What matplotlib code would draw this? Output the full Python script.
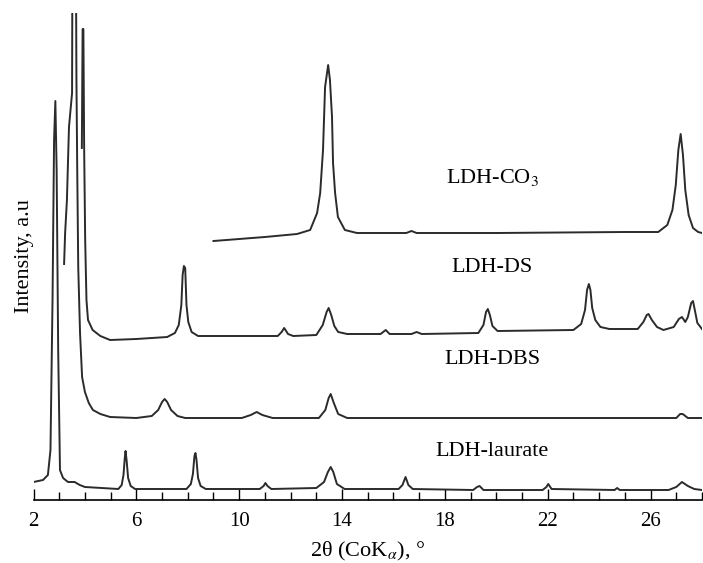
import matplotlib
matplotlib.use("Agg")
import matplotlib.pyplot as plt

# XRD patterns, intensity (arbitrary units)
laurate_x = [2.0, 2.37, 2.56, 2.66, 2.74, 2.8, 2.85, 2.9, 2.96, 3.03, 3.15, 3.34, 3.6, 3.8, 4.0,
             5.3, 5.43, 5.5, 5.55, 5.58, 5.62, 5.68, 5.78, 5.95,
             7.95, 8.12, 8.2, 8.26, 8.3, 8.34, 8.4, 8.5, 8.7,
             10.8, 10.95, 11.02, 11.1, 11.25,
             13.0, 13.3, 13.45, 13.56, 13.66, 13.8, 14.1,
             16.2, 16.35, 16.47, 16.58, 16.75,
             19.1, 19.25, 19.35, 19.5,
             21.8, 21.95, 22.02, 22.15,
             24.6, 24.7, 24.8,
             26.7, 27.0, 27.22, 27.45, 27.7, 28.0]
laurate_y = [18, 20, 25, 50, 200, 360, 399, 330, 150, 30, 22, 18, 18, 15, 13,
             11, 15, 25, 42, 49, 40, 22, 14, 11,
             11, 16, 26, 44, 47, 40, 22, 14, 11,
             11, 14, 17, 14, 11,
             12, 18, 28, 33, 28, 16, 11,
             11, 15, 23, 15, 11,
             10, 13, 14, 10,
             10, 13, 16, 11,
             10, 12, 10,
             10, 13, 18, 14, 11, 10]

dbs_x = [3.19, 3.23, 3.3, 3.38, 3.5, 3.52, 3.64, 3.67, 3.7, 3.74, 3.81, 3.89,
         4.0, 4.15, 4.31, 4.6, 4.98,
         6.0, 6.6, 6.85, 7.0, 7.1, 7.2, 7.35, 7.6, 7.9,
         10.1, 10.45, 10.68, 10.9, 11.3,
         13.1, 13.35, 13.48, 13.56, 13.68, 13.85, 14.2,
         27.0, 27.15, 27.25, 27.45, 28.0]
dbs_y = [236, 267, 300, 373, 407, 600, 600, 420, 333, 233, 167, 123,
         108, 97, 90, 86, 83,
         82, 84, 90, 98, 101, 98, 90, 84, 82,
         82, 85, 88, 85, 82,
         82, 90, 102, 106, 97, 86, 82,
         82, 86, 86, 82, 82]

ds_x = [3.88, 3.91, 3.94, 3.97, 4.01, 4.06, 4.12, 4.3, 4.6, 4.98,
        6.0, 7.2, 7.5, 7.65, 7.75, 7.8, 7.85, 7.9, 7.95, 8.02, 8.15, 8.4,
        11.5, 11.65, 11.75, 11.9, 12.1,
        13.0, 13.25, 13.4, 13.48, 13.58, 13.7, 13.85, 14.2,
        15.5, 15.7, 15.85, 16.7, 16.9, 17.1,
        19.3, 19.5, 19.6, 19.67, 19.75, 19.85, 20.05,
        23.0, 23.3, 23.45, 23.53, 23.6, 23.66, 23.73, 23.85, 24.05, 24.4,
        25.5, 25.72, 25.85, 25.92, 26.05, 26.25, 26.5,
        26.9, 27.1, 27.22, 27.35, 27.45, 27.58, 27.65, 27.72, 27.82, 28.0]
ds_y = [352, 471, 471, 352, 260, 200, 180, 170, 164, 160,
        161, 163, 167, 175, 195, 225, 234, 232, 195, 178, 168, 164,
        164, 168, 172, 166, 164,
        165, 175, 188, 192, 185, 174, 168, 166,
        166, 170, 166, 166, 168, 166,
        167, 175, 188, 191, 185, 174, 169,
        170, 176, 190, 210, 216, 210, 192, 180, 173, 171,
        171, 178, 185, 186, 180, 173, 170,
        173, 181, 183, 178, 183, 197, 199, 190, 177, 171]

co3_x = [9.0, 10.0, 11.0, 12.25, 12.76, 13.03, 13.15, 13.26, 13.34, 13.46, 13.53,
         13.61, 13.65, 13.73, 13.84, 14.11, 14.58, 16.5, 16.7, 16.9, 20.0, 25.0,
         26.3, 26.65, 26.85, 26.98, 27.08, 27.17, 27.26, 27.35, 27.48, 27.65, 27.85, 28.0]
co3_y = [259, 261, 263, 266, 270, 287, 307, 350, 413, 435, 420,
         383, 337, 307, 283, 270, 267, 267, 269, 267, 267, 268,
         268, 275, 290, 315, 350, 366, 345, 310, 285, 272, 268, 267]

labels = ["LDH-CO$_3$", "LDH-DS", "LDH-DBS", "LDH-laurate"]
label_y = [322, 232, 140, 48]

plt.rcParams['font.family'] = ['Liberation Serif', 'DejaVu Serif']
plt.rcParams['mathtext.fontset'] = 'stix'

fig = plt.figure(figsize=(7.03, 5.63), dpi=100)
ax = fig.add_axes([33.5 / 703, 63 / 563, 668.5 / 703, 487 / 563])

for xs, ys in [(laurate_x, laurate_y), (dbs_x, dbs_y), (ds_x, ds_y), (co3_x, co3_y)]:
    ax.plot(xs, ys, color='#2b2b2b', lw=1.4)

for lab, yy in zip(labels, label_y):
    ax.text(19.85, yy, lab, ha='center', va='center', fontsize=16)

ax.set_xlim(2, 28)
ax.set_ylim(0, 487)
ax.set_xticks(range(2, 27, 4))
ax.set_xticks(range(2, 29), minor=True)
ax.set_yticks([])
ax.tick_params(axis='x', which='both', direction='in', labelsize=15, width=1, pad=9)
ax.tick_params(axis='x', which='major', length=8)
ax.tick_params(axis='x', which='minor', length=6)
for s in ['top', 'right', 'left']:
    ax.spines[s].set_visible(False)
ax.spines['bottom'].set_linewidth(1.2)

ax.set_xlabel("2θ (CoK$_{\\alpha}$), °", fontsize=16, labelpad=6)
ax.set_ylabel("Intensity, a.u", fontsize=16, labelpad=0)

fig.savefig("out.png", dpi=100)
